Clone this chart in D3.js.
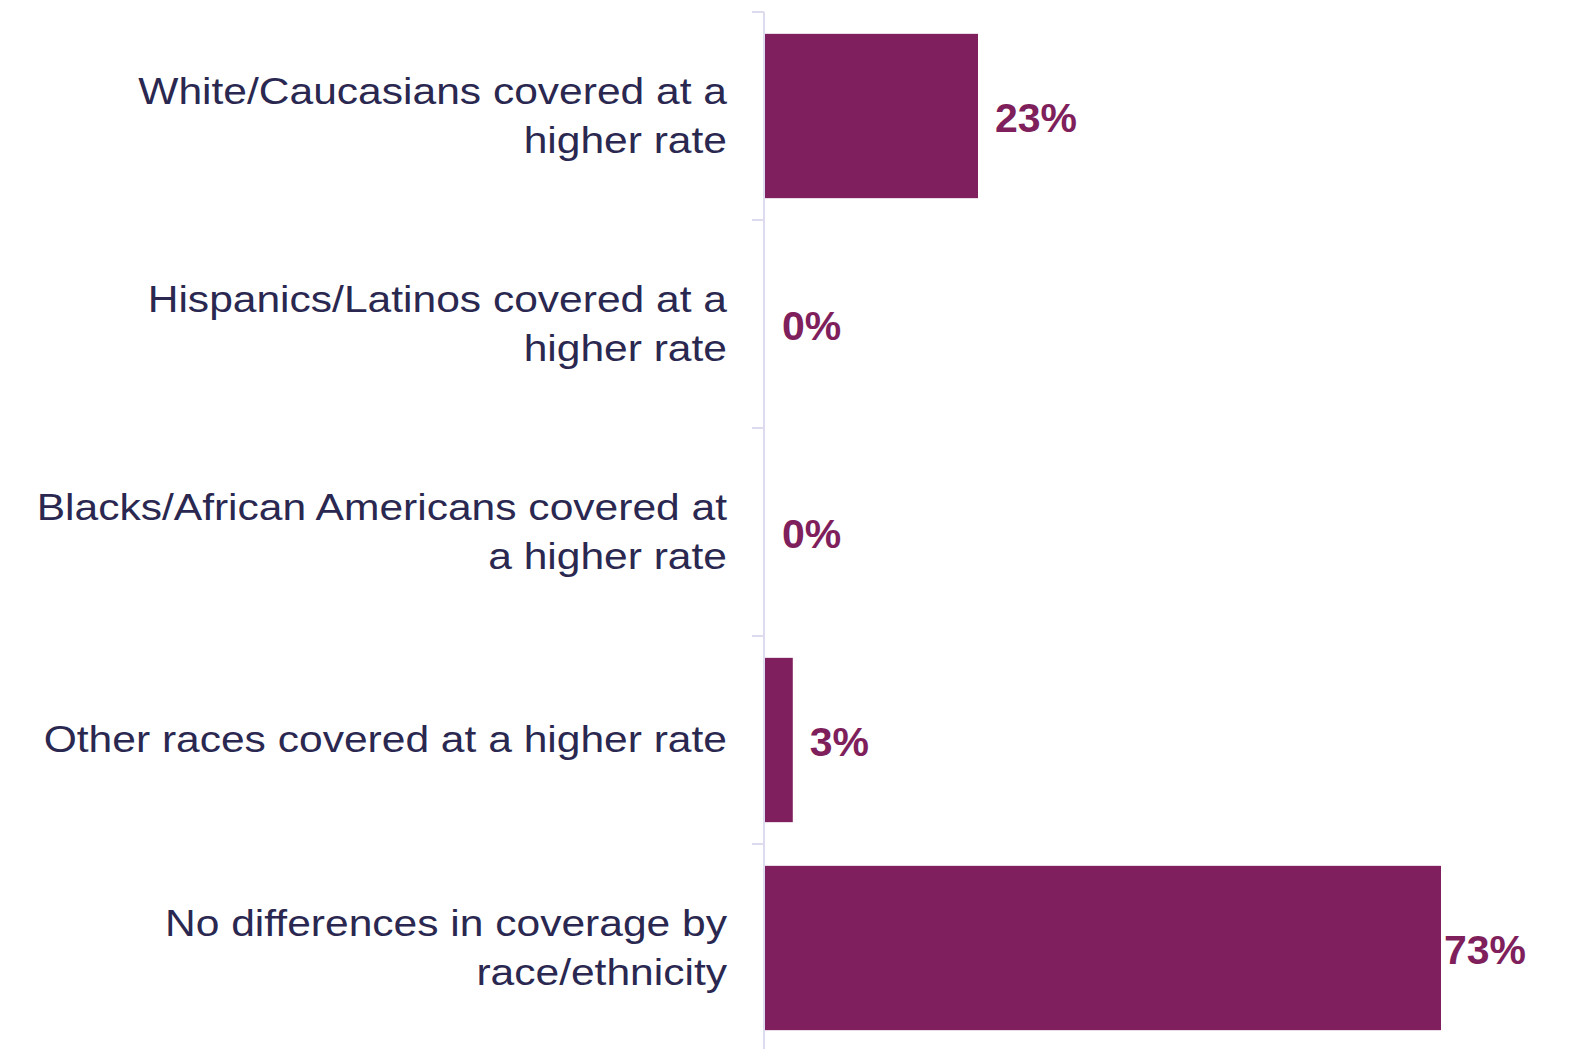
<!DOCTYPE html>
<html>
<head>
<meta charset="utf-8">
<script src="https://cdn.jsdelivr.net/npm/d3@7"></script>
<style>
  html, body { margin: 0; padding: 0; background: #ffffff; }
  svg { display: block; }
</style>
</head>
<body>
<svg id="chart" width="1572" height="1049"></svg>
<script>
// Survey responses: how coverage differs by race/ethnicity
const categories = [
  "White/Caucasians covered at a higher rate",
  "Hispanics/Latinos covered at a higher rate",
  "Blacks/African Americans covered at a higher rate",
  "Other races covered at a higher rate",
  "No differences in coverage by race/ethnicity"
];
const labelLines = [
  ["White/Caucasians covered at a", "higher rate"],
  ["Hispanics/Latinos covered at a", "higher rate"],
  ["Blacks/African Americans covered at", "a higher rate"],
  ["Other races covered at a higher rate"],
  ["No differences in coverage by", "race/ethnicity"]
];
const values = [23, 0, 0, 3, 73];

const barColor = "#7f1f5d";
const valueColor = "#7f1f5c";
const textColor = "#2a2850";
const axisColor = "#dcdbf0";

const svg = d3.select("#chart");

const y = d3.scaleBand()
  .domain(categories)
  .range([12, 1052])
  .paddingInner(0.21)
  .paddingOuter(0.105);

const x = d3.scaleLinear()
  .domain([0, 73])
  .range([765, 1441]);

const plotRight = 1526;

// Category axis with outward ticks at band boundaries
const axisX = 764;
svg.append("line")
  .attr("x1", axisX).attr("x2", axisX)
  .attr("y1", y.range()[0]).attr("y2", y.range()[1])
  .attr("stroke", axisColor).attr("stroke-width", 2);

const boundaries = categories.map((c, i) => y.range()[0] + i * y.step());
boundaries.push(y.range()[1]);
svg.selectAll("line.tick")
  .data(boundaries)
  .join("line")
  .attr("class", "tick")
  .attr("x1", axisX - 12).attr("x2", axisX)
  .attr("y1", d => d).attr("y2", d => d)
  .attr("stroke", axisColor).attr("stroke-width", 2);

// Bars
svg.selectAll("rect.bar")
  .data(values)
  .join("rect")
  .attr("class", "bar")
  .attr("x", x(0))
  .attr("y", (d, i) => y(categories[i]))
  .attr("width", d => x(d) - x(0))
  .attr("height", y.bandwidth())
  .attr("fill", barColor);

// Category labels (right-aligned, wrapped)
const lineGap = 49;
const labelGroups = svg.selectAll("g.cat")
  .data(categories)
  .join("g")
  .attr("class", "cat");

labelGroups.each(function (c, i) {
  const lines = labelLines[i];
  const center = y(c) + y.bandwidth() / 2;
  const n = lines.length;
  lines.forEach((t, j) => {
    const baseline = center + 12 + (j - (n - 1) / 2) * lineGap;
    d3.select(this).append("text")
      .attr("transform", `translate(727,${baseline}) scale(1.15,1)`)
      .attr("text-anchor", "end")
      .attr("font-family", "'Liberation Sans', Arial, sans-serif")
      .attr("font-size", 37)
      .attr("fill", textColor)
      .text(t);
  });
});

// Value labels
svg.selectAll("text.val")
  .data(values)
  .join("text")
  .attr("class", "val")
  .attr("y", (d, i) => y(categories[i]) + y.bandwidth() / 2 + 15.5)
  .attr("font-family", "'Liberation Sans', Arial, sans-serif")
  .attr("font-weight", "bold")
  .attr("font-size", 41)
  .attr("fill", valueColor)
  .text(d => d + "%")
  .attr("x", function (d) {
    const w = this.getComputedTextLength();
    return Math.min(x(d) + 17, plotRight - w);
  });
</script>
</body>
</html>
